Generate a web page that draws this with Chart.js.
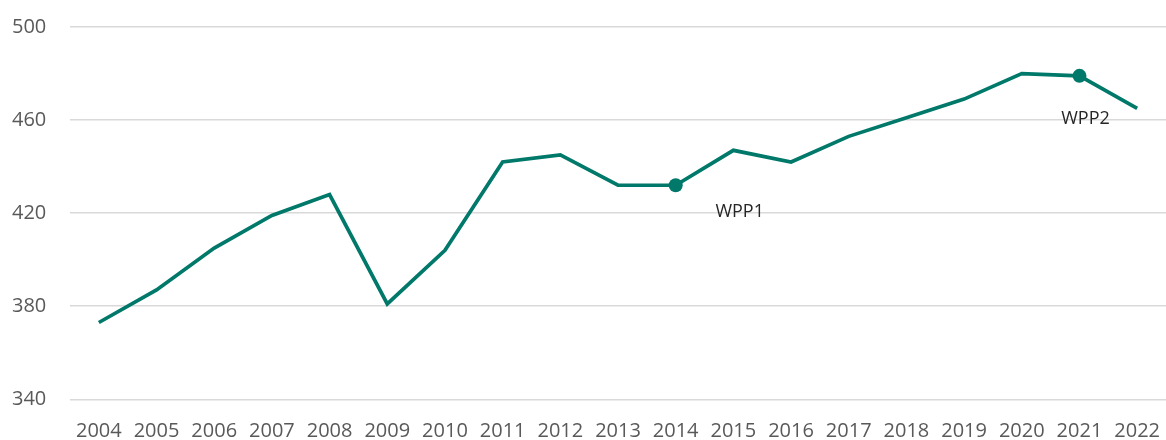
<!DOCTYPE html>
<html>
<head>
<meta charset="utf-8">
<script src="https://cdn.jsdelivr.net/npm/chart.js@4"></script>
<style>
  html, body { margin:0; padding:0; background:#fff; }
  #wrap { width:1166px; height:440px; position:relative; }
</style>
</head>
<body>
<div id="wrap"><canvas id="chart"></canvas></div>
<script>
// Datos
const years  = ["2004","2005","2006","2007","2008","2009","2010","2011","2012","2013",
                "2014","2015","2016","2017","2018","2019","2020","2021","2022"];
const values = [373, 387, 405, 419, 428, 381, 404, 442, 445, 432,
                432, 447, 442, 453, 461, 469, 480, 479, 465];
const yTicks = [340, 380, 420, 460, 500];

// Puntos marcados + etiquetas
const markedYears  = ["2014", "2021"];
const markedLabels = ["WPP1", "WPP2"];

const LINE_COLOR = "#00796b";

// Etiquetas junto a los puntos marcados (desplazamiento en px)
const labelOffsets = { "WPP1": [64, 27], "WPP2": [6, 43] };
const pointLabels = {
  id: "pointLabels",
  afterDatasetsDraw(chart) {
    const { ctx } = chart;
    const meta = chart.getDatasetMeta(0);
    ctx.save();
    ctx.font = "18px 'Open Sans'";
    ctx.fillStyle = "#262626";
    ctx.textAlign = "center";
    ctx.textBaseline = "middle";
    markedYears.forEach((yr, i) => {
      const idx = years.indexOf(yr);
      const el = meta.data[idx];
      const txt = markedLabels[i];
      const [dx, dy] = labelOffsets[txt];
      ctx.fillText(txt, el.x + dx, el.y + dy);
    });
    ctx.restore();
  }
};

const radii = years.map(y => markedYears.includes(y) ? 7 : 0);

new Chart(document.getElementById("chart"), {
  type: "line",
  data: {
    labels: years,
    datasets: [{
      data: values,
      borderColor: LINE_COLOR,
      backgroundColor: LINE_COLOR,
      borderWidth: 3.7,
      tension: 0,
      pointRadius: radii,
      pointHoverRadius: radii,
      pointBorderWidth: 0,
      borderJoinStyle: "miter"
    }]
  },
  options: {
    responsive: true,
    maintainAspectRatio: false,
    animation: false,
    layout: { padding: { top: 27, right: 0, left: 12, bottom: 0 } },
    plugins: { legend: { display: false }, tooltip: { enabled: false } },
    scales: {
      x: {
        offset: true,
        grid: { display: false, tickLength: 20 },
        border: { display: false },
        ticks: { color: "#595959", font: { family: "'Open Sans'", size: 20 }, padding: 0, maxRotation: 0, autoSkip: false },
        afterFit: s => { s.height = 40.7; }
      },
      y: {
        min: 340, max: 500,
        afterBuildTicks: s => { s.ticks = yTicks.map(v => ({ value: v })); },
        grid: { color: "#d9d9d9", lineWidth: 1.5, drawTicks: false },
        border: { display: false },
        ticks: { color: "#595959", font: { family: "'Open Sans'", size: 20 }, padding: 0, crossAlign: "far" },
        afterFit: s => { s.width = 58; }
      }
    }
  },
  plugins: [pointLabels]
});
</script>
</body>
</html>
